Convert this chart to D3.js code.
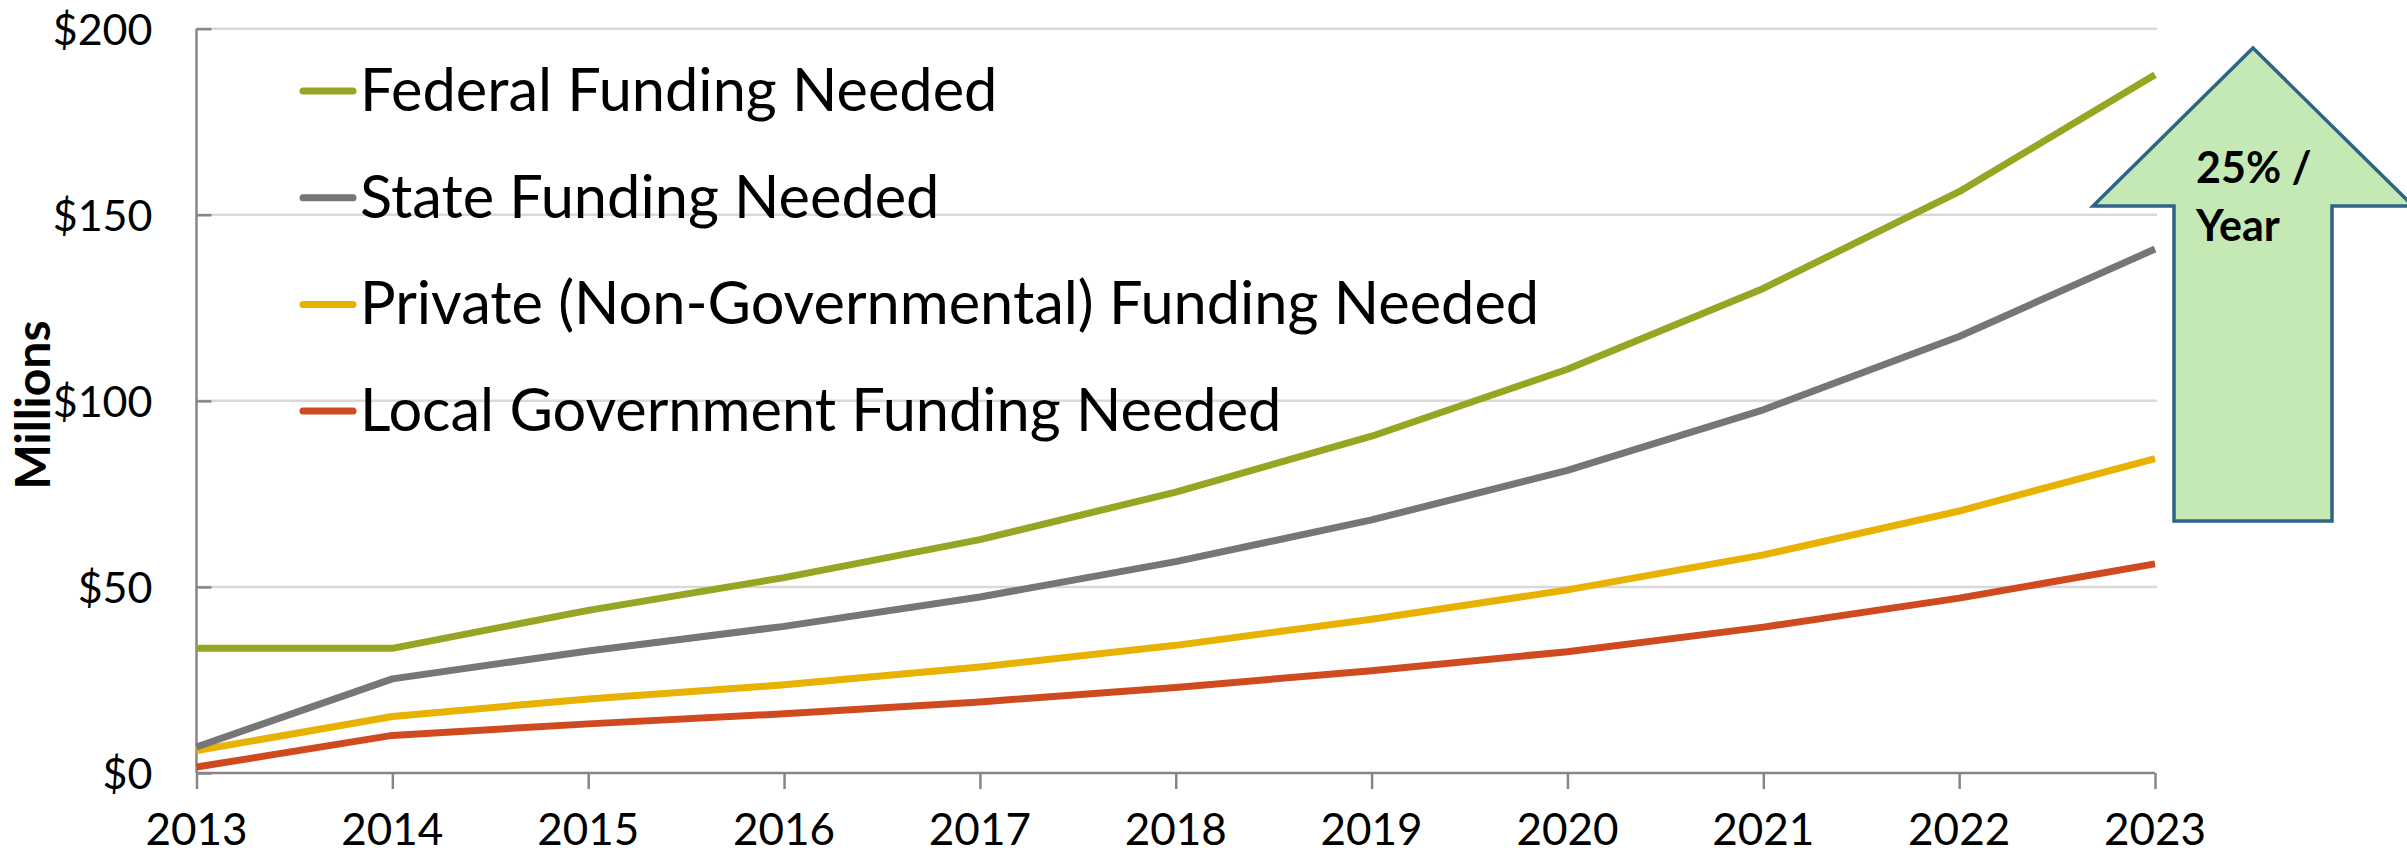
<!DOCTYPE html>
<html>
<head>
<meta charset="utf-8">
<script src="https://cdn.jsdelivr.net/npm/d3@7"></script>
<style>
  html, body { margin: 0; padding: 0; background: #fff; }
  svg { display: block; font-family: Lato, "Open Sans", sans-serif; }
</style>
</head>
<body>
<svg id="chart" width="2407" height="854"></svg>
<script>
// Funding needed per year, in millions of dollars
const years = [2013, 2014, 2015, 2016, 2017, 2018, 2019, 2020, 2021, 2022, 2023];
const federalFunding = [33.5, 33.5, 43.7, 52.5, 62.7, 75.5, 90.5, 108.5, 130.2, 156.2, 187.6];
const stateFunding   = [7.0, 25.3, 32.8, 39.4, 47.3, 56.8, 68.0, 81.3, 97.6, 117.3, 140.8];
const privateFunding = [6.0, 15.2, 19.9, 23.7, 28.5, 34.3, 41.3, 49.2, 58.6, 70.4, 84.5];
const localFunding   = [1.6, 10.1, 13.2, 15.9, 19.1, 23.0, 27.5, 32.6, 39.2, 47.0, 56.2];

const seriesNames = [
  "Federal Funding Needed",
  "State Funding Needed",
  "Private (Non-Governmental) Funding Needed",
  "Local Government Funding Needed"
];
const seriesColors = ["#96a623", "#767676", "#e8b200", "#d04a1f"];
const yTicks = [0, 50, 100, 150, 200];
const growthLabel = ["25% /", "Year"];

const series = [federalFunding, stateFunding, privateFunding, localFunding]
  .map((values, i) => ({ name: seriesNames[i], color: seriesColors[i], values }));

const svg = d3.select("#chart");

const plot = { left: 196.5, right: 2155, top: 28.7, bottom: 773 };

const x = d3.scaleLinear().domain([2013, 2023]).range([plot.left, plot.right]);
const y = d3.scaleLinear().domain([0, 200]).range([plot.bottom, plot.top]);

// Horizontal gridlines
svg.append("g")
  .selectAll("line")
  .data(yTicks.filter(d => d > 0))
  .join("line")
  .attr("x1", plot.left).attr("x2", plot.right + 2)
  .attr("y1", d => y(d)).attr("y2", d => y(d))
  .attr("stroke", "#d9d9d9").attr("stroke-width", 2.5);

// Y axis: ticks point into the plot, labels on the left
const yAxis = svg.append("g")
  .attr("transform", `translate(${plot.left},0)`)
  .call(d3.axisRight(y).tickValues(yTicks).tickSize(15).tickFormat(""));
yAxis.select(".domain").attr("stroke", "#868686").attr("stroke-width", 2.5)
  .attr("d", `M0,${plot.top}V${plot.bottom}`);
yAxis.selectAll(".tick line").attr("stroke", "#868686").attr("stroke-width", 2.5);

svg.append("g")
  .selectAll("text")
  .data(yTicks)
  .join("text")
  .attr("x", plot.left - 44)
  .attr("y", d => y(d) + 16)
  .attr("text-anchor", "end")
  .attr("font-size", 43)
  .attr("fill", "#000")
  .text(d => "$" + d);

// X axis
const xAxis = svg.append("g")
  .attr("transform", `translate(0,${plot.bottom})`)
  .call(d3.axisBottom(x).tickValues(years).tickSize(16).tickFormat(""));
xAxis.select(".domain").attr("stroke", "#868686").attr("stroke-width", 2.5)
  .attr("d", `M${plot.left},0H${plot.right}`);
xAxis.selectAll(".tick line").attr("stroke", "#868686").attr("stroke-width", 2.5);

svg.append("g")
  .selectAll("text")
  .data(years)
  .join("text")
  .attr("x", d => x(d))
  .attr("y", 845)
  .attr("text-anchor", "middle")
  .attr("font-size", 44)
  .attr("fill", "#000")
  .text(d => d);

// Axis title
svg.append("text")
  .attr("transform", "translate(50,405) rotate(-90)")
  .attr("text-anchor", "middle")
  .attr("font-size", 48)
  .attr("font-weight", 700)
  .attr("fill", "#000")
  .text("Millions");

// Series lines
const line = d3.line()
  .x((d, i) => x(years[i]))
  .y(d => y(d));

svg.append("g")
  .selectAll("path")
  .data(series.slice().reverse())
  .join("path")
  .attr("d", d => line(d.values))
  .attr("fill", "none")
  .attr("stroke", d => d.color)
  .attr("stroke-width", 7)
  .attr("stroke-linejoin", "round");

// Legend
const legend = svg.append("g").attr("transform", "translate(300,111)");
const rows = legend.selectAll("g")
  .data(series)
  .join("g")
  .attr("transform", (d, i) => `translate(0,${i * 106.7})`);
rows.append("line")
  .attr("x1", 3).attr("x2", 53)
  .attr("y1", -20).attr("y2", -20)
  .attr("stroke", d => d.color)
  .attr("stroke-width", 7)
  .attr("stroke-linecap", "round");
rows.append("text")
  .attr("x", 60)
  .attr("y", 0)
  .attr("font-size", 59.5)
  .attr("fill", "#000")
  .text(d => d.name);

// Growth-rate arrow
const cx = 2253, tipY = 48, baseY = 206, bottomY = 521, headHalf = 160, shaftHalf = 79;
const arrowPts = [
  [cx, tipY], [cx + headHalf, baseY], [cx + shaftHalf, baseY], [cx + shaftHalf, bottomY],
  [cx - shaftHalf, bottomY], [cx - shaftHalf, baseY], [cx - headHalf, baseY]
];
svg.append("path")
  .attr("d", d3.line()(arrowPts) + "Z")
  .attr("fill", "#c5e9b4")
  .attr("stroke", "#2e6585")
  .attr("stroke-width", 3.5)
  .attr("stroke-linejoin", "miter");

svg.append("g")
  .selectAll("text")
  .data(growthLabel)
  .join("text")
  .attr("x", 2196)
  .attr("y", (d, i) => 183 + i * 58)
  .attr("font-size", 43)
  .attr("font-weight", 700)
  .attr("fill", "#000")
  .text(d => d);
</script>
</body>
</html>
